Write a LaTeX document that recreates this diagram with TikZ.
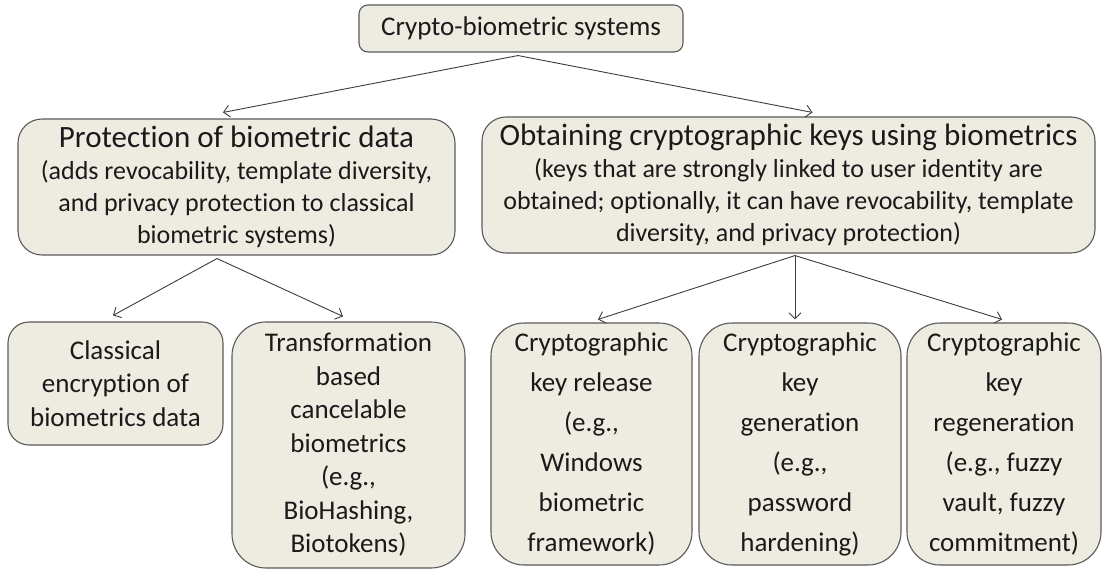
\documentclass[tikz,border=0pt]{standalone}
\usepackage{fontspec}
\setmainfont{Carlito}[Ligatures={NoCommon}]
\usetikzlibrary{arrows.meta}
\definecolor{boxfill}{HTML}{EEECE1}
\definecolor{boxline}{HTML}{5A5A5A}
\definecolor{arrowcol}{HTML}{3C3C3C}
\definecolor{txtcol}{HTML}{1A1A1A}
\newcommand{\fTop}{\fontsize{27}{33}\selectfont}
\newcommand{\fTitle}{\fontsize{31}{37}\selectfont}
\newcommand{\fSub}{\fontsize{26}{32}\selectfont}
\newcommand{\fBot}{\fontsize{27}{33.5}\selectfont}
\newcommand{\fBotW}{\fontsize{27}{40}\selectfont}
\tikzset{
  box/.style={draw=boxline, fill=boxfill, line width=1.1pt, inner sep=0pt,
              align=flush center, text=txtcol},
  arr/.style={draw=arrowcol, line width=0.9pt,
              -{Straight Barb[length=6pt,width=12pt]}},
}
\begin{document}
\begin{tikzpicture}[x=1pt,y=1pt]
\useasboundingbox (0,0) rectangle (1105,-570);

\node[box, rounded corners=9pt, text width=324pt, minimum height=47pt, font=\fTop]
  (top) at (521,-28.5) {Crypto-biometric systems};

\node[box, rounded corners=24pt, text width=437pt, minimum height=136pt]
  (pd) at (236.5,-187) {{\fTitle Protection of biometric data\par}%
  {\fSub (adds revocability, template diversity,\\ and privacy protection to classical\\ biometric systems)\par}};

\node[box, rounded corners=24pt, text width=613pt, minimum height=136pt]
  (ok) at (788.5,-185) {{\fTitle Obtaining cryptographic keys using biometrics\par}%
  {\fSub (keys that are strongly linked to user identity are\\ obtained; optionally, it can have revocability, template\\ diversity, and privacy protection)\par}};

\node[box, rounded corners=21pt, text width=215pt, minimum height=123pt, font=\fBot]
  (ce) at (115.5,-383.5) {Classical\\ encryption of\\ biometrics data};

\node[box, rounded corners=34pt, text width=233pt, minimum height=246pt, font=\fBot]
  (tc) at (348.5,-445) {Transformation\\ based\\ cancelable\\ biometrics\\ (e.g.,\\ BioHashing,\\ Biotokens)};

\node[box, rounded corners=33pt, text width=201pt, minimum height=242pt, font=\fBotW]
  (kr) at (591.5,-444) {Cryptographic\\ key release\\ (e.g.,\\ Windows\\ biometric\\ framework)};

\node[box, rounded corners=33pt, text width=202pt, minimum height=242pt, font=\fBotW]
  (kg) at (800,-444) {Cryptographic\\ key\\ generation\\ (e.g.,\\ password\\ hardening)};

\node[box, rounded corners=33pt, text width=194pt, minimum height=242pt, font=\fBotW]
  (krg) at (1004,-444) {Cryptographic\\ key\\ regeneration\\ (e.g., fuzzy\\ vault, fuzzy\\ commitment)};

\coordinate (topA) at ([xshift=-3pt,yshift=-3pt]top.south);
\coordinate (pdA) at ([xshift=-19.5pt,yshift=-3pt]pd.south);
\coordinate (okA) at ([xshift=6.5pt,yshift=-2pt]ok.south);

\draw[arr] (topA) -- ([xshift=-13.5pt,yshift=6pt]pd.north);
\draw[arr] (topA) -- ([xshift=24pt,yshift=4pt]ok.north);
\draw[arr] (pdA) -- ([xshift=-2.5pt,yshift=6pt]ce.north);
\draw[arr] (pdA) -- ([xshift=-5.5pt,yshift=5pt]tc.north);
\draw[arr] (okA) -- ([xshift=6.5pt,yshift=3pt]kr.north);
\draw[arr] (okA) -- ([xshift=-5pt,yshift=3pt]kg.north);
\draw[arr] (okA) -- ([xshift=-2pt,yshift=3pt]krg.north);
\end{tikzpicture}
\end{document}
